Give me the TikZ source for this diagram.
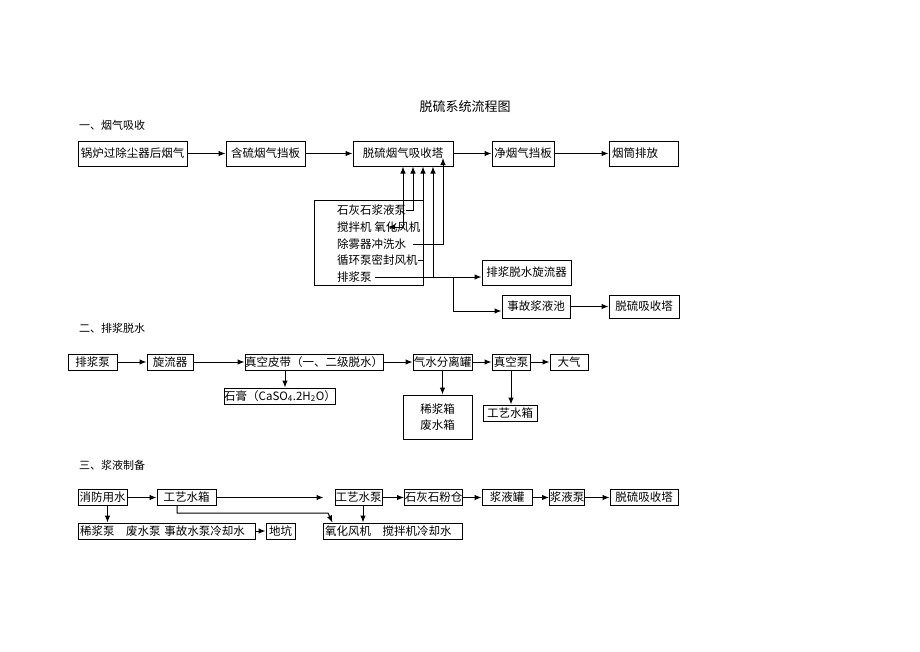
\documentclass[tikz,border=0pt]{standalone}
\usepackage{fontspec}
\setmainfont{Noto Sans CJK SC}
\usetikzlibrary{arrows.meta}

\begin{document}
\begin{tikzpicture}[x=1pt, y=-1pt,
      box/.style={draw, line width=1pt, inner sep=0pt, font=\fontsize{11.5}{13}\selectfont},
      tall/.style={box, minimum height=25pt},
      flat/.style={box, minimum height=16pt},
      arrow/.style={-{Latex[length=7pt,width=5.5pt]}, line width=1pt},
      both/.style={{Latex[length=7pt,width=5.5pt]}-{Latex[length=7pt,width=5.5pt]}, line width=1pt},
      heading/.style={anchor=west, inner sep=0pt, font=\fontsize{11}{13}\selectfont},
      item/.style={anchor=west, inner sep=0pt, font=\fontsize{11.5}{13}\selectfont}
    ]
    \useasboundingbox (0,0) rectangle (920,651);
    \node[font=\fontsize{13}{15}\selectfont] (title) at (465,107) {脱硫系统流程图};

    % 一、烟气吸收
    \node[heading] (head1) at (79,125) {一、烟气吸收};
    \node[tall, minimum width=109pt] (flue) at (132.5,153.5) {锅炉过除尘器后烟气};
    \node[tall, minimum width=79pt] (damper) at (265.5,153.5) {含硫烟气挡板};
    \node[tall, minimum width=100pt] (tower) at (403,153.5) {脱硫烟气吸收塔};
    \node[tall, minimum width=62pt] (clean) at (523,153.5) {净烟气挡板};
    \node[tall, minimum width=69pt, text width=63pt] (stack) at (643.5,153.5) {烟筒排放};
    \draw[arrow] (flue) -- (damper);
    \draw[arrow] (damper) -- (tower);
    \draw[arrow] (tower) -- (clean);
    \draw[arrow] (clean) -- (stack);

    \node[draw, line width=1pt, inner sep=0pt, minimum width=109pt, minimum height=85pt] (feed) at (368.5,242.5) {};
    \node[item] (lime) at (337,210) {石灰石浆液泵};
    \node[item] (oxid) at (337,227) {搅拌机 氧化风机};
    \node[item] (demist) at (337,244) {除雾器冲洗水};
    \node[item] (seal) at (337,260) {循环泵密封风机};
    \node[item] (drain) at (337,277) {排浆泵};
    \node[tall, minimum width=89pt] (cyclone) at (526.5,272.5) {排浆脱水旋流器};
    \node[box, minimum width=68pt, minimum height=23pt] (pool) at (536,306.5) {事故浆液池};
    \node[box, minimum width=70pt, minimum height=23pt] (absorb) at (644,306.5) {脱硫吸收塔};

    \coordinate (tap1) at ([xshift=10pt]tower.south);
    \coordinate (tap2) at ([xshift=20pt]tower.south);
    \coordinate (tap3) at ([xshift=30pt]tower.south);
    \coordinate (tap4) at ([xshift=40pt,yshift=-4.5pt]tower.center);
    \coordinate (oxtap) at (388,227);
    \coordinate (split) at (453,277);
    \draw[arrow] (lime.east) -| (tap1);
    \draw[both] (oxtap) -| (tower.south);
    \draw[arrow] ([xshift=7pt]demist.east) -| (tap4);
    \draw[arrow] (seal.east) -| (tap2);
    \draw[arrow] ([xshift=3pt]drain.east) -- (cyclone.west |- drain.east);
    \draw[arrow] (tap3 |- drain.east) -- (tap3);
    \draw[arrow] (split) |- ([yshift=-4.5pt]pool.west);
    \draw[arrow] (pool) -- (absorb);

    % 二、排浆脱水
    \node[heading] (head2) at (79,328) {二、排浆脱水};
    \node[flat, minimum width=49pt] (pump) at (92.5,362) {排浆泵};
    \node[flat, minimum width=46pt] (spin) at (170,362) {旋流器};
    \node[flat, minimum width=138pt] (belt) at (314,362) {真空皮带（一、二级脱水）};
    \node[flat, minimum width=59pt] (sep) at (442.5,362) {气水分离罐};
    \node[flat, minimum width=38pt] (vac) at (511,362) {真空泵};
    \node[flat, minimum width=38pt] (air) at (569,362) {大气};
    \node[flat, minimum width=108pt] (gyp) at (280,396) {石膏（CaSO\textsubscript{4}.2H\textsubscript{2}O）};
    \node[box, minimum width=69pt, minimum height=44pt, align=center] (tanks) at (437.5,417) {稀浆箱\\[3pt]废水箱};
    \node[flat, minimum width=54pt] (water) at (510,413) {工艺水箱};
    \coordinate (belttap) at ([xshift=-29pt]belt.south);
    \draw[arrow] (pump) -- (spin);
    \draw[arrow] (spin) -- (belt);
    \draw[arrow] (belt) -- (sep);
    \draw[arrow] (sep) -- (vac);
    \draw[arrow] (vac) -- (air);
    \draw[arrow] (belttap) -- (belttap |- gyp.north);
    \draw[arrow] (sep.south) -- (sep.south |- tanks.north);
    \draw[arrow] (vac.south) -- (vac.south |- water.north);

    % 三、浆液制备
    \node[heading] (head3) at (79,465) {三、浆液制备};
    \node[flat, minimum width=49pt] (fire) at (102.5,497.5) {消防用水};
    \node[flat, minimum width=59pt] (wtank) at (186.5,497.5) {工艺水箱};
    \node[flat, minimum width=47pt] (wpump) at (358.5,497.5) {工艺水泵};
    \node[flat, minimum width=58pt] (silo) at (433.5,497.5) {石灰石粉仓};
    \node[flat, minimum width=50pt] (slurry) at (507,497.5) {浆液罐};
    \node[flat, minimum width=35pt] (spump) at (567,497.5) {浆液泵};
    \node[flat, minimum width=68pt] (absorb2) at (644,497.5) {脱硫吸收塔};
    \node[flat, minimum width=177pt, text width=173pt] (users) at (166.5,531) {稀浆泵　废水泵 事故水泵冷却水};
    \node[flat, minimum width=29pt] (pit) at (280.5,531) {地坑};
    \node[flat, minimum width=139pt, text width=135pt] (cool) at (392.5,531) {氧化风机　搅拌机冷却水};
    \coordinate (bend) at (328,513);
    \draw[arrow] (fire) -- (wtank);
    \draw[arrow, shorten >=11pt] (wtank) -- (wpump);
    \draw[arrow] (wpump) -- (silo);
    \draw[arrow] (silo) -- (slurry);
    \draw[arrow] (slurry) -- (spump);
    \draw[arrow] (spump) -- (absorb2);
    \draw[arrow] ([xshift=5pt]fire.south) -- ([xshift=5pt]fire.south |- users.north);
    \draw[arrow] (users) -- (pit);
    \draw[arrow] ([xshift=-9.5pt]wtank.south) |- (bend) -- ([xshift=10pt]cool.north west);
    \draw[arrow] ([xshift=4.5pt]wpump.south) -- ([xshift=4.5pt]wpump.south |- cool.north);
  \end{tikzpicture}
\end{document}
